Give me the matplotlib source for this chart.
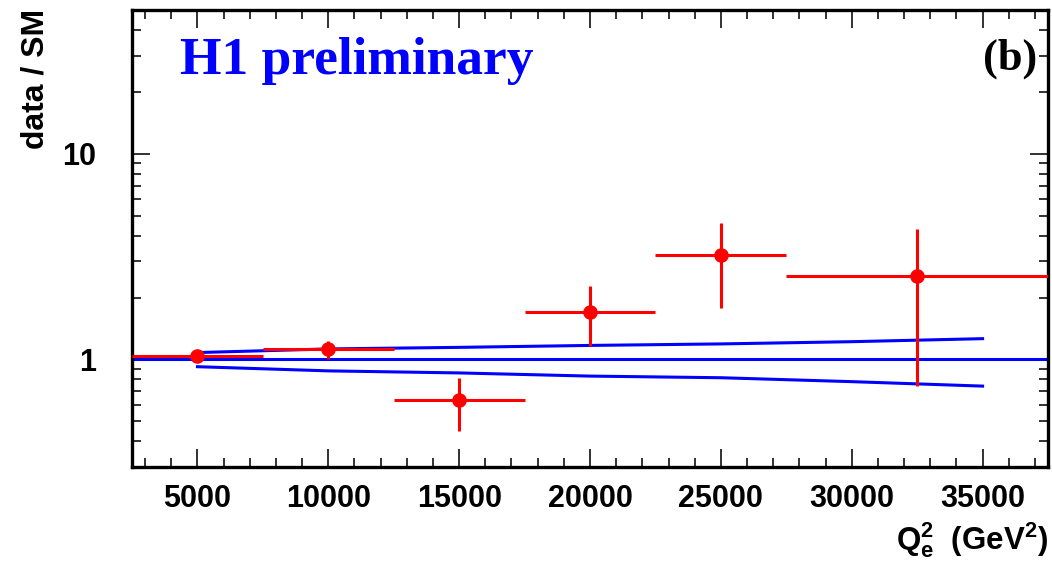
import numpy as np
import matplotlib
matplotlib.use("Agg")
import matplotlib.pyplot as plt
from matplotlib.ticker import FixedLocator, NullFormatter, FixedFormatter

# measured ratio data / SM in bins of Q2
q2 = [5000, 10000, 15000, 20000, 25000, 32500]
q2_halfwidth = [2500, 2500, 2500, 2500, 2500, 5000]
ratio = [1.04, 1.13, 0.635, 1.71, 3.21, 2.55]
ratio_hi = [1.07, 1.23, 0.81, 2.28, 4.62, 4.32]
ratio_lo = [1.01, 1.01, 0.447, 1.165, 1.77, 0.745]

# SM uncertainty band
band_q2 = [5000, 10000, 15000, 20000, 25000, 30000, 35000]
band_up = [1.08, 1.125, 1.145, 1.17, 1.19, 1.22, 1.262]
band_down = [0.922, 0.88, 0.86, 0.83, 0.815, 0.78, 0.742]

plt.rcParams["font.family"] = ["Liberation Sans", "DejaVu Sans"]
plt.rcParams["font.weight"] = "bold"
plt.rcParams["mathtext.fontset"] = "custom"
plt.rcParams["mathtext.rm"] = "Liberation Sans:bold"
plt.rcParams["mathtext.bf"] = "Liberation Sans:bold"
plt.rcParams["mathtext.it"] = "Liberation Sans:bold"

fig = plt.figure(figsize=(10.52, 5.64), dpi=100)
ax = fig.add_axes([132 / 1052, 1 - 467 / 564, (1048 - 132) / 1052, (467 - 10) / 564])

ax.set_yscale("log")
ax.set_xlim(2500, 37500)
ax.set_ylim(0.3, 50)

# SM reference and its band
ax.axhline(1.0, color="#0000ff", lw=2.2, zorder=2)
ax.plot(band_q2, band_up, color="#0000ff", lw=2.2, zorder=2)
ax.plot(band_q2, band_down, color="#0000ff", lw=2.2, zorder=2)

ratio = np.array(ratio)
yerr = [ratio - np.array(ratio_lo), np.array(ratio_hi) - ratio]
ax.errorbar(q2, ratio, xerr=q2_halfwidth, yerr=yerr, fmt="o", color="#ff0000",
            ms=9.5, elinewidth=2.2, capsize=0, zorder=3)

# ticks on all sides, pointing in
ax.xaxis.set_major_locator(FixedLocator(np.arange(5000, 36000, 5000)))
ax.xaxis.set_minor_locator(FixedLocator(np.arange(3000, 37501, 1000)))
ax.yaxis.set_major_locator(FixedLocator([1, 10]))
ax.yaxis.set_major_formatter(FixedFormatter(["1", "10"]))
minor_y = [0.3, 0.4, 0.5, 0.6, 0.7, 0.8, 0.9, 2, 3, 4, 5, 6, 7, 8, 9, 20, 30, 40]
ax.yaxis.set_minor_locator(FixedLocator(minor_y))
ax.yaxis.set_minor_formatter(NullFormatter())

ax.tick_params(which="both", direction="in", top=True, right=True, width=1.3, color="#222222")
ax.tick_params(which="major", length=13)
ax.tick_params(which="minor", length=6.5)
ax.tick_params(axis="x", which="major", labelsize=22, pad=12)
ax.tick_params(axis="y", which="major", labelsize=22, pad=26)
for lab in ax.get_xticklabels() + ax.get_yticklabels():
    lab.set_fontweight("bold")

for sp in ax.spines.values():
    sp.set_linewidth(2.4)

fig.text(35 / 1052, 1 - 9 / 564, "data / SM", rotation=90, ha="center", va="top",
         fontsize=23, fontweight="bold")
fig.text(1048 / 1052, 1 - 550 / 564, r"$\mathbf{Q_e^2}$  (GeV$^\mathbf{2}$)",
         ha="right", va="baseline", fontsize=22.5, fontweight="bold")

fig.text(180 / 1052, 1 - 74 / 564, "H1 preliminary", color="#0000ff",
         fontsize=38.5, fontweight="bold", family="Liberation Serif",
         ha="left", va="baseline")
fig.text(1037 / 1052, 1 - 70 / 564, "(b)", color="black",
         fontsize=32, fontweight="bold", family="Liberation Serif",
         ha="right", va="baseline")

fig.savefig("out.png", dpi=100)
